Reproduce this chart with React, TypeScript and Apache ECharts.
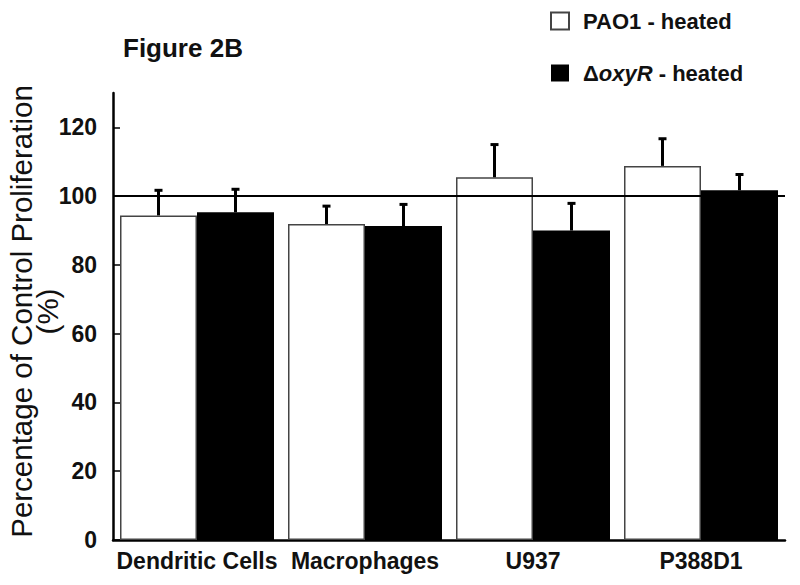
import React, { useEffect, useRef } from "react";
import * as echarts from "echarts";

const categories = ["Dendritic Cells", "Macrophages", "U937", "P388D1"];
const pao1Values = [94.4, 91.9, 105.5, 108.8];
const pao1Errors = [7.3, 5.2, 9.5, 7.9];
const oxyRValues = [95.3, 91.3, 90.0, 101.7];
const oxyRErrors = [6.7, 6.3, 7.9, 4.6];
const yTicks = [0, 20, 40, 60, 80, 100, 120];
const referenceValue = 100;
const seriesNames = ["PAO1 - heated", "\u0394oxyR - heated"];

const FONT = "'Liberation Sans', Arial, Helvetica, sans-serif";
const BAR_W = 77;

function errorSeries(values: number[], errors: number[], offset: number) {
  return {
    type: "custom",
    silent: true,
    z: 10,
    data: values.map((v, i) => [i, v, v + errors[i]]),
    encode: { x: 0, y: [1, 2] },
    renderItem: (params: any, api: any) => {
      const i = api.value(0);
      const lo = api.coord([i, api.value(1)]);
      const hi = api.coord([i, api.value(2)]);
      const x = lo[0] + offset;
      return {
        type: "group",
        children: [
          { type: "line", shape: { x1: x, y1: lo[1], x2: x, y2: hi[1] }, style: { stroke: "#000", lineWidth: 3 } },
          { type: "line", shape: { x1: x - 4, y1: hi[1], x2: x + 4, y2: hi[1] }, style: { stroke: "#000", lineWidth: 3 } },
        ],
      };
    },
  };
}

export default function App() {
  const ref = useRef<HTMLDivElement>(null);
  useEffect(() => {
    if (!ref.current) return;
    const chart = echarts.init(ref.current, null, { renderer: "svg" });
    chart.setOption({
      animation: false,
      backgroundColor: "#fff",
      textStyle: { fontFamily: FONT },
      title: {
        text: "Figure 2B",
        left: 118,
        top: 30,
        textStyle: { fontFamily: FONT, fontSize: 26, fontWeight: "bold", color: "#111" },
      },
      legend: {
        data: seriesNames,
        orient: "vertical",
        left: 545,
        top: 5,
        itemWidth: 18,
        itemHeight: 17,
        itemGap: 30,
        icon: "rect",
        textStyle: {
          fontFamily: FONT,
          fontSize: 22,
          fontWeight: "bold",
          color: "#111",
          padding: [0, 0, 0, 9],
          rich: {
            n: { fontFamily: FONT, fontSize: 22, fontWeight: "bold", color: "#111" },
            i: { fontFamily: FONT, fontSize: 22, fontWeight: "bold", fontStyle: "italic", color: "#111" },
          },
        },
        formatter: (name: string) =>
          name.startsWith("\u0394") ? "{n|\u0394}{i|oxyR}{n| - heated}" : name,
      },
      grid: { left: 113, right: 15, top: 93, bottom: 45, containLabel: false, outerBoundsMode: "none" },
      xAxis: {
        type: "category",
        data: categories,
        axisLine: { lineStyle: { color: "#000", width: 2.5 } },
        axisTick: { show: false },
        axisLabel: {
          fontFamily: FONT,
          fontSize: 23,
          fontWeight: "bold",
          color: "#111",
          margin: 9,
          interval: 0,
        },
      },
      yAxis: {
        type: "value",
        min: 0,
        max: 130,
        interval: 20,
        splitLine: { show: false },
        axisLine: { show: true, lineStyle: { color: "#000", width: 2.5 } },
        axisTick: { show: true, inside: true, length: 7, lineStyle: { color: "#000", width: 1.5 }, customValues: yTicks },
        axisLabel: {
          fontFamily: FONT,
          fontSize: 23,
          fontWeight: "bold",
          color: "#111",
          margin: 16,
          customValues: yTicks,
        },
        name: "Percentage of Control Proliferation\n(%)",
        nameLocation: "middle",
        nameRotate: 90,
        nameGap: 53,
        nameMoveOverlap: false,
        nameTextStyle: { fontFamily: FONT, fontSize: 29.5, color: "#111", lineHeight: 26, padding: [0, 0, 0, 10] },
      },
      series: [
        {
          name: seriesNames[0],
          type: "bar",
          data: pao1Values,
          barWidth: BAR_W,
          barGap: "0%",
          itemStyle: { color: "#fff", borderColor: "#444", borderWidth: 1.5 },
          markLine: {
            silent: true,
            symbol: "none",
            label: { show: false },
            lineStyle: { color: "#000", width: 2, type: "solid" },
            data: [{ yAxis: referenceValue }],
            z: 5,
          },
        },
        {
          name: seriesNames[1],
          type: "bar",
          data: oxyRValues,
          barWidth: BAR_W,
          barGap: "0%",
          itemStyle: { color: "#000", borderColor: "#000", borderWidth: 0 },
        },
        errorSeries(pao1Values, pao1Errors, -BAR_W / 2),
        errorSeries(oxyRValues, oxyRErrors, BAR_W / 2),
      ],
    });
    return () => chart.dispose();
  }, []);
  return <div ref={ref} style={{ width: 800, height: 585, position: "absolute", left: 0, top: 0 }} />;
}
